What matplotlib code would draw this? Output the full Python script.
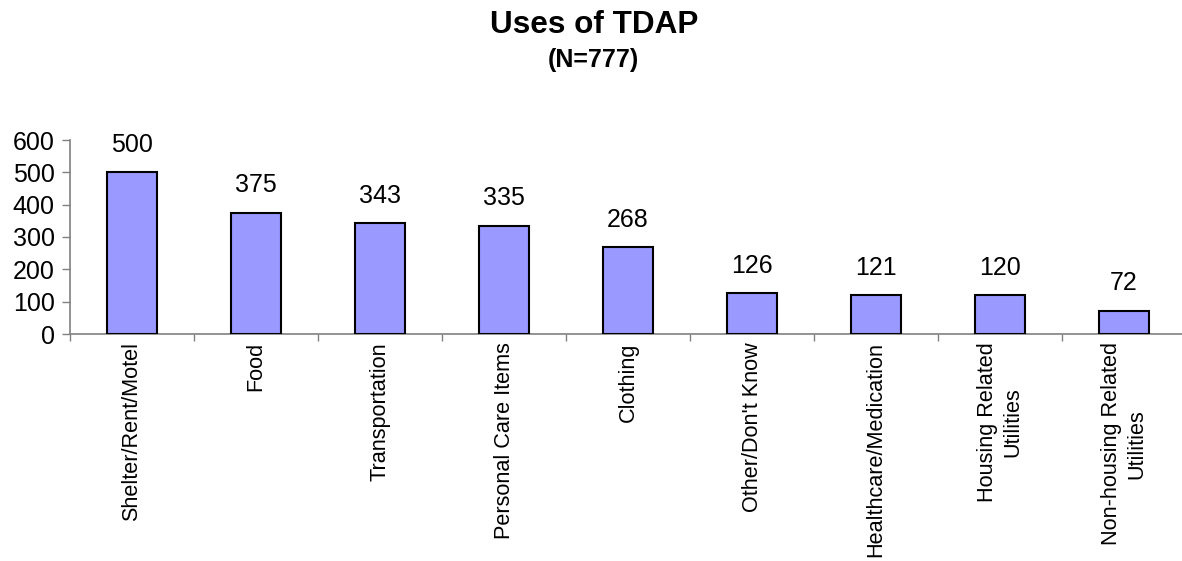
import matplotlib
matplotlib.use("Agg")
import matplotlib.pyplot as plt
import numpy as np

categories = ["Shelter/Rent/Motel", "Food", "Transportation", "Personal Care Items",
              "Clothing", "Other/Don't Know", "Healthcare/Medication",
              "Housing Related\nUtilities", "Non-housing Related\nUtilities"]
values = [500, 375, 343, 335, 268, 126, 121, 120, 72]
yticks = [0, 100, 200, 300, 400, 500, 600]

plt.rcParams['font.family'] = ['Liberation Sans', 'DejaVu Sans']

W, H = 1182, 561
fig = plt.figure(figsize=(W/100, H/100), dpi=100)
ax = fig.add_axes([70/W, (H-334)/H, 1116/W, 194/H])

x = np.arange(len(categories))
ax.bar(x, values, width=0.41, color='#9999FF', edgecolor='black', linewidth=1.5, zorder=3)
for xi, v in zip(x, values):
    ax.annotate(str(v), (xi, v), xytext=(0, 11), textcoords='offset points',
                ha='center', va='bottom', fontsize=18)

ax.set_xlim(-0.5, len(categories) - 0.5)
ax.set_ylim(0, 600)
ax.set_yticks(yticks)
ax.set_yticklabels([str(t) for t in yticks], fontsize=18)
ax.set_xticks(x)
ax.set_xticklabels(categories, rotation=90, fontsize=15.6, ha='center', va='top',
                   multialignment='center', linespacing=1.25)
ax.set_xticks(np.arange(len(categories) + 1) - 0.5, minor=True)
ax.tick_params(axis='x', which='major', length=0, pad=6)
ax.tick_params(axis='x', which='minor', length=5, color='#808080', width=1)
ax.tick_params(axis='y', length=6, color='#808080', width=1, pad=5)

for s in ['top', 'right']:
    ax.spines[s].set_visible(False)
for s in ['left', 'bottom']:
    ax.spines[s].set_color('#808080')
    ax.spines[s].set_linewidth(1.2)

fig.text(594/W, 1 - 25/H, "Uses of TDAP", ha='center', va='center', fontsize=22.7, fontweight='bold')
fig.text(593/W, 1 - 60/H, "(N=777)", ha='center', va='center', fontsize=18, fontweight='bold')

fig.savefig("out.png", dpi=100)
